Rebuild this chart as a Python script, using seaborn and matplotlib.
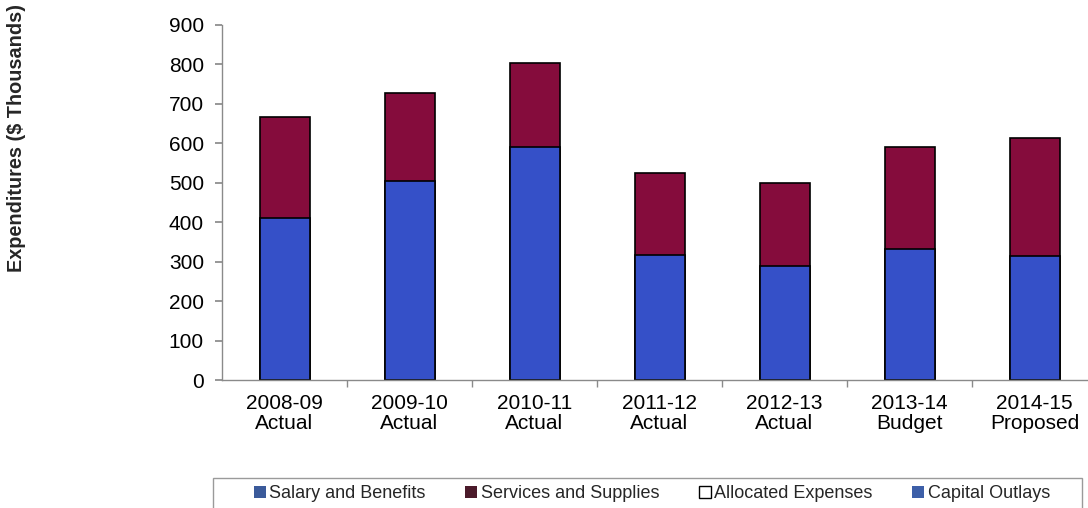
import numpy as np
import pandas as pd
import matplotlib
matplotlib.use("Agg")
import matplotlib.pyplot as plt
from matplotlib.patches import Patch, Rectangle
import seaborn as sns

# Data ($ thousands)
years = ["2008-09\nActual", "2009-10\nActual", "2010-11\nActual", "2011-12\nActual",
         "2012-13\nActual", "2013-14\nBudget", "2014-15\nProposed"]
salary = [410, 505, 590, 318, 290, 333, 315]
services = [256, 223, 214, 206, 210, 257, 298]
allocated = [0, 0, 0, 0, 0, 0, 0]
capital = [0, 0, 0, 0, 0, 0, 0]

df = pd.DataFrame({"Year": years, "Salary": salary, "Services": services,
                   "Allocated": allocated, "Capital": capital})
df["Total"] = df["Salary"] + df["Services"] + df["Allocated"] + df["Capital"]

sns.set_theme(style="white")
plt.rcParams["font.family"] = ["Liberation Sans", "DejaVu Sans"]

blue = "#3550c8"
maroon = "#850c3c"

fig = plt.figure(figsize=(10.88, 5.08), dpi=100)
ax = fig.add_axes([222 / 1088, 1 - 380 / 508, 875 / 1088, 355 / 508])

# stacked bars: draw totals first, then salary on top
sns.barplot(data=df, x="Year", y="Total", color=maroon, saturation=1, width=0.4,
            edgecolor="black", linewidth=1.2, ax=ax)
sns.barplot(data=df, x="Year", y="Salary", color=blue, saturation=1, width=0.4,
            edgecolor="black", linewidth=1.2, ax=ax)

ax.set_xlim(-0.5, 6.5)
ax.set_ylim(0, 900)
ax.set_yticks(range(0, 901, 100))
ax.set_xlabel("")
ax.set_ylabel("")

for s in ["top", "right"]:
    ax.spines[s].set_visible(False)
for s in ["left", "bottom"]:
    ax.spines[s].set_color("#8a8a8a")
    ax.spines[s].set_linewidth(1.0)

ax.tick_params(axis="y", which="major", direction="out", length=5, color="#8a8a8a",
               labelsize=15, left=True, pad=8, labelcolor="black")
ax.tick_params(axis="x", which="major", length=0, labelsize=15, pad=10, labelcolor="black")
ax.set_xticks(np.arange(0.5, 7, 1), minor=True)
ax.tick_params(axis="x", which="minor", direction="out", length=5, color="#8a8a8a",
               bottom=True)
for lab in ax.get_xticklabels():
    lab.set_linespacing(1.05)

fig.text(17 / 1088, 1 - 138 / 508, "Expenditures ($ Thousands)", rotation=90,
         ha="center", va="center", fontsize=14.3, fontweight="bold")

# legend box drawn by hand, entries centred inside it
fig.patches.append(Rectangle((213 / 1088, -0.01), 869 / 1088, 1 - 478 / 508 + 0.01,
                             transform=fig.transFigure, facecolor="white",
                             edgecolor="#9a9a9a", linewidth=1.0))
handles = [Patch(facecolor="#3b5a9a", edgecolor="none", label="Salary and Benefits"),
           Patch(facecolor="#4b1a2a", edgecolor="none", label="Services and Supplies"),
           Patch(facecolor="white", edgecolor="black", label="Allocated Expenses"),
           Patch(facecolor="#3d5fa8", edgecolor="none", label="Capital Outlays")]
leg = fig.legend(handles=handles, loc="center", ncol=4,
                 bbox_to_anchor=(652 / 1088, 1 - 494 / 508),
                 fontsize=13, frameon=False, handlelength=0.65,
                 handleheight=0.65, handletextpad=0.2, columnspacing=2.2,
                 borderaxespad=0.0, borderpad=0.0)

fig.savefig("out.png", dpi=100)
